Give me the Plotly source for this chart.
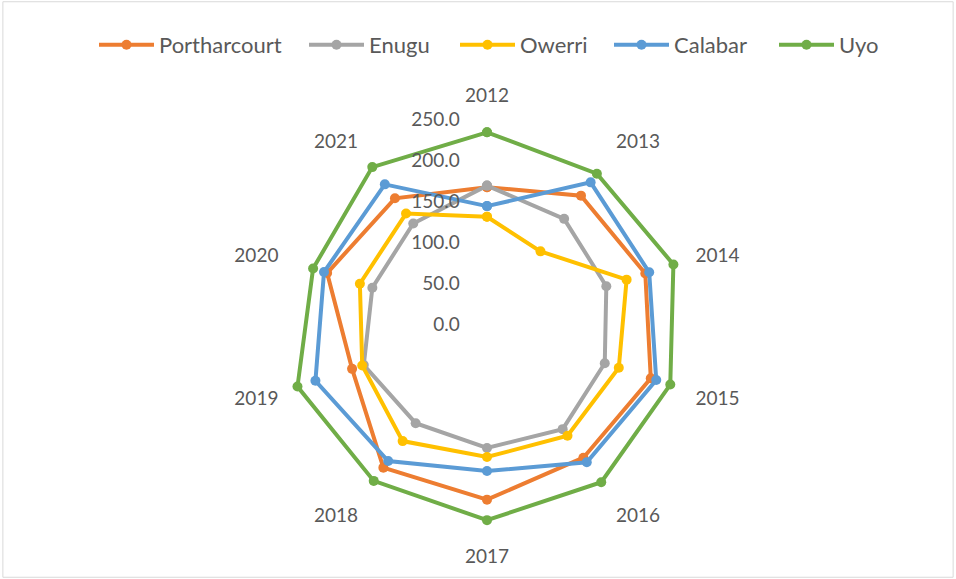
import plotly.graph_objects as go

years = ["2012", "2013", "2014", "2015", "2016", "2017", "2018", "2019", "2020", "2021"]
portharcourt = [168, 195, 203, 210, 200, 213, 215, 173, 205, 191]
enugu = [170, 160, 153, 151, 157, 150, 148, 158, 147, 153]
owerri = [132, 111, 179, 169, 167, 161, 175, 160, 163, 168]
calabar = [145, 215, 208, 217, 207, 178, 205, 220, 209, 212]
uyo = [235, 228, 239, 235, 237, 238, 235, 243, 223, 238]

series = [
    ("Portharcourt", portharcourt, "#ED7D31"),
    ("Enugu", enugu, "#A5A5A5"),
    ("Owerri", owerri, "#FFC000"),
    ("Calabar", calabar, "#5B9BD5"),
    ("Uyo", uyo, "#70AD47"),
]
legend_x = [100, 310, 461, 615, 780]

fig = go.Figure()
legends = {}
for i, (name, vals, col) in enumerate(series):
    lg = "legend" if i == 0 else f"legend{i+1}"
    fig.add_trace(go.Scatterpolar(
        r=vals + vals[:1],
        theta=years + years[:1],
        mode="lines+markers",
        name=name,
        legend=lg,
        line=dict(color=col, width=4),
        marker=dict(color=col, size=10),
    ))
    legends[lg] = dict(orientation="h", x=(legend_x[i] - 6) / 956, xanchor="left",
                       y=1 - 45 / 579, yanchor="middle", bgcolor="rgba(0,0,0,0)",
                       font=dict(size=22, color="#595959"), itemwidth=55)

font_family = "Lato, 'Open Sans', sans-serif"
fig.update_layout(
    width=956, height=579,
    margin=dict(l=0, r=0, t=0, b=0),
    paper_bgcolor="white",
    plot_bgcolor="white",
    font=dict(family=font_family, size=19, color="#595959"),
    showlegend=True,
    **legends,
    polar=dict(
        domain=dict(x=[282/956, 692/956], y=[(579-530)/579, (579-120)/579]),
        bgcolor="white",
        angularaxis=dict(
            direction="clockwise", rotation=90, type="category",
            showline=False, showgrid=False,
            ticks="outside", ticklen=10, tickcolor="rgba(0,0,0,0)",
            tickfont=dict(size=19, color="#595959"),
        ),
        radialaxis=dict(
            range=[0, 250], tickvals=[0, 50, 100, 150, 200, 250],
            tickformat=".1f", angle=90, tickangle=90,
            showline=False, showgrid=False,
            ticks="outside", ticklen=20, tickcolor="rgba(0,0,0,0)",
            side="counterclockwise",
            tickfont=dict(size=19, color="#595959"),
        ),
    ),
    shapes=[dict(type="rect", xref="paper", yref="paper", x0=0.003, y0=0.003, x1=0.997, y1=0.997,
                 line=dict(color="#D9D9D9", width=1))],
)

fig.write_html("out.html")
